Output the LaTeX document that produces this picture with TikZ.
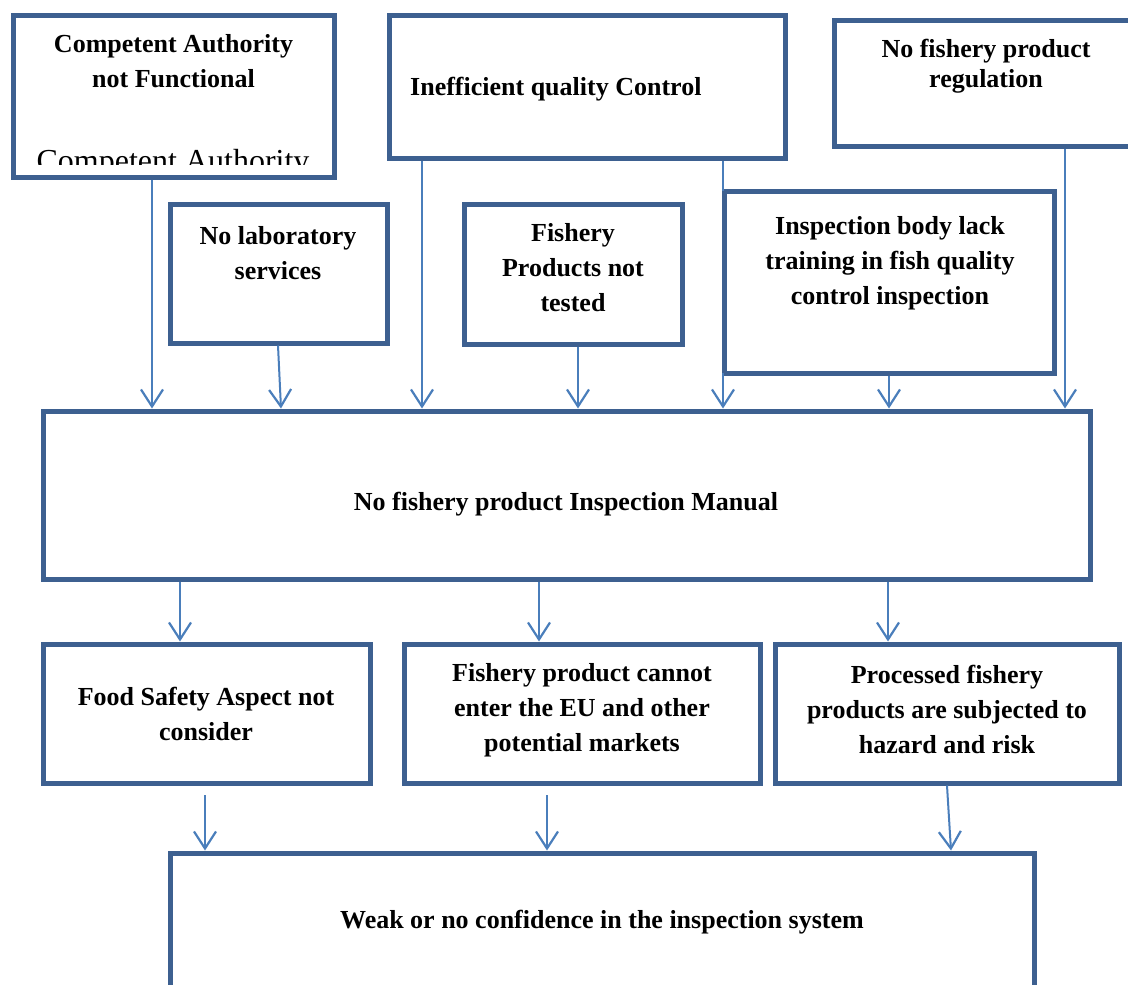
\documentclass[tikz,border=0pt]{standalone}
\usepackage{fontspec}
\setmainfont{Liberation Serif}
\usetikzlibrary{arrows.meta}
\definecolor{boxblue}{HTML}{3D6090}
\definecolor{arrblue}{HTML}{4A7EBB}
\tikzset{
  box/.style={draw=boxblue, line width=5pt, fill=white, rectangle, inner sep=0pt},
  lbl/.style={font=\fontsize{26}{35}\selectfont\bfseries, align=center, inner sep=0pt},
  arr/.style={draw=arrblue, line width=2pt, -{Straight Barb[length=17pt, width=22pt, line width=2.2pt]}},
}
\begin{document}
\begin{tikzpicture}[x=1pt, y=-1pt]
\useasboundingbox (0,0) rectangle (1128,985);
\clip (0,0) rectangle (1128,985);

% top row of causes
\node[box, minimum width=321pt, minimum height=162pt] (ca) at (173.5,96) {};
\begin{scope}
  \clip (16,18) rectangle (331,164);
  \node[font=\fontsize{32}{38}\selectfont, anchor=base, inner sep=0pt] (caext) at (173,171) {Competent Authority};
\end{scope}
\node[lbl] (catext) at (173.5,61) {Competent Authority\\not Functional};

\node[box, minimum width=396pt, minimum height=143pt] (qc) at (587,86.5) {};
\node[lbl, anchor=west] (qctext) at (410,89) {Inefficient quality Control};

\node[box, minimum width=320pt, minimum height=126pt] (reg) at (994,83) {};
\node[lbl, font=\fontsize{26}{30}\selectfont\bfseries] (regtext) at (986,66) {No fishery product\\regulation};

% second row of causes
\node[box, minimum width=217pt, minimum height=139pt] (lab) at (278.5,273.5) {};
\node[lbl] (labtext) at (278,253) {No laboratory\\services};

\node[box, minimum width=218pt, minimum height=140pt] (test) at (573,274) {};
\node[lbl] (testtext) at (573,267.5) {Fishery\\Products not\\tested};

\node[box, minimum width=330pt, minimum height=182pt] (train) at (889,282) {};
\node[lbl] (traintext) at (890,263.5) {Inspection body lack\\training in fish quality\\control inspection};

% central problem
\node[box, minimum width=1047pt, minimum height=168pt] (main) at (566.5,495) {};
\node[lbl] (maintext) at (566,504) {No fishery product Inspection Manual};

% effects
\node[box, minimum width=327pt, minimum height=139pt] (food) at (206.5,713.5) {};
\node[lbl] (foodtext) at (206,714) {Food Safety Aspect not\\consider};

\node[box, minimum width=356pt, minimum height=139pt] (eu) at (582,713.5) {};
\node[lbl] (eutext) at (582,710) {Fishery product cannot\\enter the EU and other\\potential markets};

\node[box, minimum width=344pt, minimum height=139pt] (haz) at (947,713.5) {};
\node[lbl] (haztext) at (947,709) {Processed fishery\\products are subjected to\\hazard and risk};

\node[box, minimum width=864pt, minimum height=200pt] (weak) at (602,953) {};
\node[lbl] (weaktext) at (602,922) {Weak or no confidence in the inspection system};

% causes into the central problem
\draw[arr] (ca.south -| 152,0) -- (main.north -| 152,0);
\draw[arr] (lab.south -| 278,0) -- (main.north -| 281,0);
\draw[arr] (qc.south -| 422,0) -- (main.north -| 422,0);
\draw[arr] (test.south -| 578,0) -- (main.north -| 578,0);
\draw[arr] (qc.south -| 723,0) -- (main.north -| 723,0);
\draw[arr] (train.south -| 889,0) -- (main.north -| 889,0);
\draw[arr] (reg.south -| 1065,0) -- (main.north -| 1065,0);

% central problem into its effects
\draw[arr] (main.south -| 180,0) -- (food.north -| 180,0);
\draw[arr] (main.south -| 539,0) -- (eu.north -| 539,0);
\draw[arr] (main.south -| 888,0) -- (haz.north -| 888,0);

% effects into the final outcome
\coordinate (fa) at (205,795);
\coordinate (ea) at (547,795);
\draw[arr] (fa) -- (weak.north -| 205,0);
\draw[arr] (ea) -- (weak.north -| 547,0);
\draw[arr] (haz.south -| 947,0) -- (weak.north -| 951,0);

% box left edge redrawn over the connector that runs along it
\draw[boxblue, line width=5pt] ([shift={(2.5pt,-2.5pt)}]train.north west) -- ([shift={(2.5pt,2.5pt)}]train.south west);
\end{tikzpicture}
\end{document}
